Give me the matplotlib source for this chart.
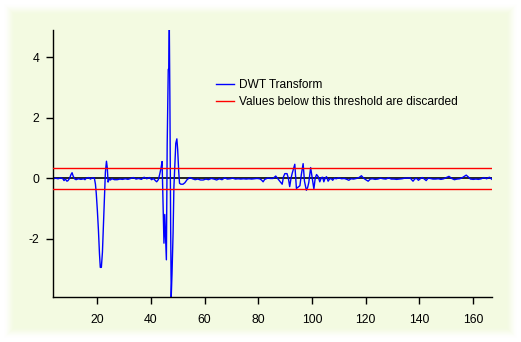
import numpy as np
import matplotlib
matplotlib.use("Agg")
import matplotlib.pyplot as plt

plt.rcParams['font.family'] = ['Liberation Sans', 'DejaVu Sans']
plt.rcParams['axes.unicode_minus'] = False

# DWT coefficients (position, value)
x = [3.6, 4.5, 5.5, 6.5, 7.3, 7.7, 8.2, 8.8, 9.2, 9.8, 10.3, 10.7, 11.1, 11.6,
     12.2, 13, 14, 15, 15.5, 16, 17, 17.5, 18.3, 19.0,
     19.4, 19.7, 20.1, 20.5, 20.9, 21.2, 21.6, 22.0, 22.4, 22.8, 23.1, 23.5,
     23.8, 24.1, 24.5, 25, 25.5, 26.5, 27.5, 28.5, 29.5, 30.5, 31.5, 32.5,
     33.5, 34.5, 35.5, 36.5, 37.5, 38.5, 39.5, 40.3, 41.0, 41.7, 42.2, 42.8,
     43.3, 43.8, 44.2, 44.6, 44.9, 45.2, 45.5, 45.8, 46.1, 46.5, 46.7, 46.9,
     47.1, 47.4, 47.6, 47.9, 48.3, 48.6, 49.0, 49.3, 49.7, 50.0, 50.4, 50.7,
     51.2, 52.0, 52.7, 53.5, 54.5, 55.5, 56.5, 57.5, 58.5, 59.5, 60.5, 61.5,
     62.5, 63.5, 64.5, 65.5, 66.5, 67.5, 68.5, 69.5, 70.5, 71.5, 72.5, 73.5,
     74.5, 75.5, 76.5, 77.5, 78.5, 79.5, 80.5, 81.2, 81.8, 82.4, 83.5, 84.5,
     85.5, 86.5, 87.3, 88.0, 88.9, 89.4, 89.9, 90.7, 91.2, 91.7, 92.2, 92.6,
     93.1, 93.6, 94.2, 94.8, 95.5, 96.0, 96.7, 97.2, 97.9, 98.4, 98.8, 99.5,
     100.1, 100.7, 101.2, 101.7, 102.3, 102.9, 103.5, 104.0, 104.4, 104.9,
     105.4, 106.0, 106.6, 107.2, 107.7, 108.3, 109, 110, 111, 112, 113, 113.7,
     114.5, 115.5, 116.5, 117.5, 118.4, 119.2, 120.0, 120.9, 121.7, 122.5,
     123.5, 124.5, 125.5, 126.5, 127.5, 128.5, 129.5, 130.5, 131.5, 132.5,
     133.5, 134.5, 135.5, 136.5, 137.6, 138.3, 139, 139.6, 140.3, 141, 141.7,
     142.5, 143.2, 144, 145, 146, 147, 148, 149, 150, 151, 152, 153, 154, 155,
     156, 157.4, 158.3, 159, 160, 161, 162, 163, 164, 165, 166, 167]
dwt = [-0.03, 0.0, -0.02, 0.01, -0.02, -0.08, -0.03, -0.1, -0.08, 0.0, 0.12,
       0.18, 0.07, -0.02, -0.05, -0.02, -0.04, -0.02, -0.05, 0.0, 0.02, -0.03,
       0.01, 0.0,
       -0.2, -0.5, -1.05, -1.7, -2.5, -2.95, -2.95, -2.45, -1.5, -0.6, 0.2,
       0.56, 0.35, -0.13, -0.03, -0.06, -0.02, -0.05, -0.05, -0.03, -0.04,
       -0.02, -0.04, -0.01, 0.02, -0.03, -0.01, -0.04, 0.03, -0.02, 0.02,
       -0.05, -0.01, -0.08, -0.12, -0.05, 0.12, 0.33, 0.55, -1.05, -2.15,
       -1.2, -2.0, -2.7, 1.1, 3.6, 3.6, 4.9, 2.7, -1.7, -3.93, -3.15, -1.8,
       -0.3, 0.5, 1.15, 1.3, 0.95, 0.2, -0.17, -0.2, -0.2, -0.15, -0.05, 0.02,
       -0.02, -0.05, -0.03, -0.06, -0.06, -0.03, -0.05, -0.01, -0.03, -0.06,
       -0.02, -0.05, 0.01, -0.03, -0.02, 0.0, -0.03, -0.02, -0.03, -0.02,
       -0.03, -0.02, -0.03, -0.02, -0.01, -0.02, -0.06, -0.12, -0.04, 0.0,
       -0.01, -0.01, 0.07, -0.02, -0.1, -0.2, 0.05, 0.15, 0.15, 0.0, -0.28,
       0.0, 0.15, 0.3, 0.46, -0.34, -0.3, -0.25, 0.1, 0.48, -0.1, -0.4, -0.3,
       -0.15, 0.35, 0.0, -0.36, 0.0, 0.12, 0.05, -0.12, 0.02, 0.03, -0.12,
       0.0, 0.05, -0.1, -0.02, -0.02, -0.07, 0.0, -0.02, 0.01, -0.02, -0.01,
       -0.04, -0.07, -0.02, -0.03, -0.01, 0.02, 0.08, 0.0, -0.05, -0.1, -0.03,
       -0.02, -0.04, -0.03, 0.0, -0.02, -0.03, 0.01, -0.03, -0.03, -0.04,
       -0.03, -0.02, 0.0, 0.0, 0.01, -0.1, -0.02, -0.01, -0.07, -0.02, 0.02,
       -0.02, -0.08, 0.0, -0.01, -0.03, -0.03, -0.02, -0.04, -0.02, 0.02,
       0.06, -0.01, -0.05, -0.03, -0.02, 0.02, 0.1, 0.03, -0.03, -0.04, -0.03,
       -0.04, -0.02, 0.02, -0.02, 0.03, -0.04]
threshold = 0.35
xticks = [20, 40, 60, 80, 100, 120, 140, 160]
yticks = [-2, 0, 2, 4]

bg = '#f3fae1'
W, H = 521, 342
fig = plt.figure(figsize=(W / 100, H / 100), dpi=100, facecolor='white')

# soft-edged panel behind the plot
bax = fig.add_axes([0, 0, 1, 1], zorder=-1)
bax.set_axis_off()
yy, xx = np.mgrid[0:H, 0:W]
d = np.minimum(np.minimum(xx, W - 1 - xx), np.minimum(yy, H - 1 - yy))
a = np.clip((d - 3) / 12.0, 0, 1)
a = a * a * (3 - 2 * a)
rgba = np.zeros((H, W, 4))
rgba[..., :3] = matplotlib.colors.to_rgb(bg)
rgba[..., 3] = a
bax.imshow(rgba, aspect='auto', interpolation='bilinear')

ax = fig.add_axes([53 / W, 1 - 297 / H, (492 - 53) / W, (297 - 30) / H])
ax.patch.set_alpha(0)

ax.axhline(0, color='black', lw=1.2, zorder=1)
ax.plot(x, dwt, color='#0000ff', lw=1.0, label='DWT Transform', zorder=2)
ax.axhline(threshold, color='#ff0000', lw=1.0, zorder=3,
           label='Values below this threshold are discarded')
ax.axhline(-threshold, color='#ff0000', lw=1.0, zorder=3)

ax.set_xlim(3.6, 167)
ax.set_ylim(-3.93, 4.9)
ax.set_xticks(xticks)
ax.set_yticks(yticks)
ax.tick_params(labelsize=8.8, length=5, width=1, color='black')
ax.tick_params(axis='x', pad=7)
ax.tick_params(axis='y', pad=5)
for s in ['top', 'right']:
    ax.spines[s].set_visible(False)
for s in ['left', 'bottom']:
    ax.spines[s].set_linewidth(1)

ax.legend(loc='upper left', bbox_to_anchor=((216 - 53) / (492 - 53), 1 - (79 - 30) / (297 - 30)),
          frameon=False, fontsize=8.6, handlelength=1.5, handletextpad=0.45,
          labelspacing=0.45, borderpad=0, borderaxespad=0)

fig.savefig('out.png', dpi=100, facecolor='white')
